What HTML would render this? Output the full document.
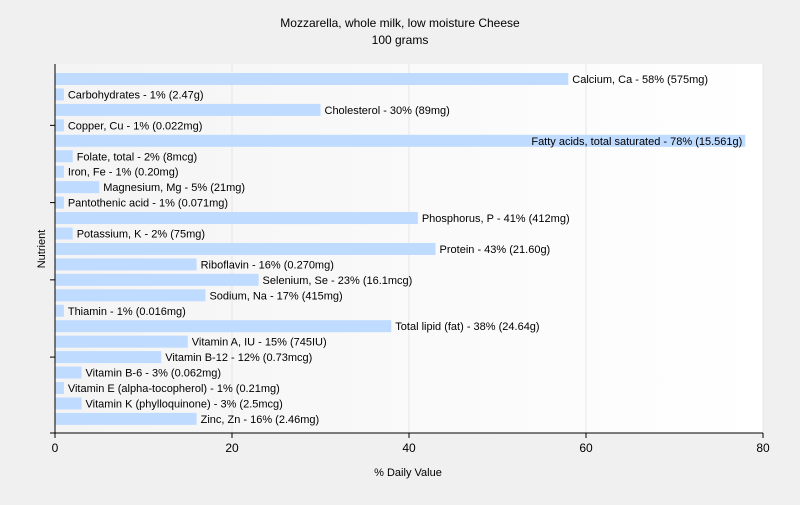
<!DOCTYPE html>
<html><head><meta charset="utf-8"><style>
body{margin:0;background:#f0f0f0;font-family:"Liberation Sans",sans-serif}
svg text{font-family:"Liberation Sans",sans-serif;fill:#000}
</style></head><body>
<svg id="c" width="800" height="500">
<defs><linearGradient id="g" x1="0" x2="1" y1="0" y2="0"><stop offset="0" stop-color="#f4f4f4"/><stop offset="1" stop-color="#ffffff"/></linearGradient></defs>
<rect x="0" y="0" width="800" height="500" fill="#f0f0f0"/>
<rect x="55" y="64" width="708" height="369" fill="url(#g)"/>
<text x="400" y="27" font-size="12" text-anchor="middle">Mozzarella, whole milk, low moisture Cheese</text>
<text x="400" y="44" font-size="12" text-anchor="middle">100 grams</text>
<text x="408" y="476" font-size="11" text-anchor="middle">% Daily Value</text>
<text transform="translate(45,249) rotate(-90)" font-size="11" text-anchor="middle">Nutrient</text>
<g id="grid"></g><g id="bars"></g><g id="axes"></g>
</svg>
<script>
const categories=["Calcium, Ca","Carbohydrates","Cholesterol","Copper, Cu","Fatty acids, total saturated","Folate, total","Iron, Fe","Magnesium, Mg","Pantothenic acid","Phosphorus, P","Potassium, K","Protein","Riboflavin","Selenium, Se","Sodium, Na","Thiamin","Total lipid (fat)","Vitamin A, IU","Vitamin B-12","Vitamin B-6","Vitamin E (alpha-tocopherol)","Vitamin K (phylloquinone)","Zinc, Zn"];
const values=[58,1,30,1,78,2,1,5,1,41,2,43,16,23,17,1,38,15,12,3,1,3,16];
const amounts=["575mg","2.47g","89mg","0.022mg","15.561g","8mcg","0.20mg","21mg","0.071mg","412mg","75mg","21.60g","0.270mg","16.1mcg","415mg","0.016mg","24.64g","745IU","0.73mcg","0.062mg","0.21mg","2.5mcg","2.46mg"];
const xTicks=[0,20,40,60,80];
const NS="http://www.w3.org/2000/svg";
const x0=55,x1=763,xMax=80,yTop=73,pitch=15.45,bh=12;
const X=v=>x0+(x1-x0)*v/xMax;
const Y=i=>yTop+pitch*i;
function mk(t,a,p){const e=document.createElementNS(NS,t);for(const k in a)e.setAttribute(k,a[k]);p.appendChild(e);return e;}
const grid=document.getElementById('grid'),bars=document.getElementById('bars'),axes=document.getElementById('axes');
xTicks.forEach(t=>{
 if(t>0){const l=mk('line',{x1:X(t),x2:X(t),y1:64,y2:433,stroke:'#e6e6e6'},grid);
 
 }
 const k=mk('line',{x1:X(t),x2:X(t),y1:433,y2:438,stroke:'#000'},axes);
 
 
 const tx=mk('text',{x:X(t),y:452,'font-size':12,'text-anchor':'middle'},axes);tx.textContent=t;
 
 
});
categories.forEach((c,i)=>{
 const r=mk('rect',{x:x0,y:Y(i),width:X(values[i])-x0,height:bh,fill:'#bfdbff'},bars);
 
 
 const label=c+' - '+values[i]+'% ('+amounts[i]+')';
 const inside=X(values[i])+4+label.length*5.6>795;
 const t=mk('text',{x:inside?X(values[i])-3:X(values[i])+4,y:Y(i)+10,'font-size':11,'text-anchor':inside?'end':'start'},bars);
 t.textContent=label;
 
 
 if(i%5===3){const k=mk('line',{x1:50,x2:55,y1:Y(i)+bh/2,y2:Y(i)+bh/2,stroke:'#000'},axes);
 
 }
});
const ya=mk('line',{x1:55,x2:55,y1:64,y2:433,stroke:'#000'},axes);


const xa=mk('line',{x1:50,x2:763,y1:433,y2:433,stroke:'#000'},axes);


</script>
</body></html>
